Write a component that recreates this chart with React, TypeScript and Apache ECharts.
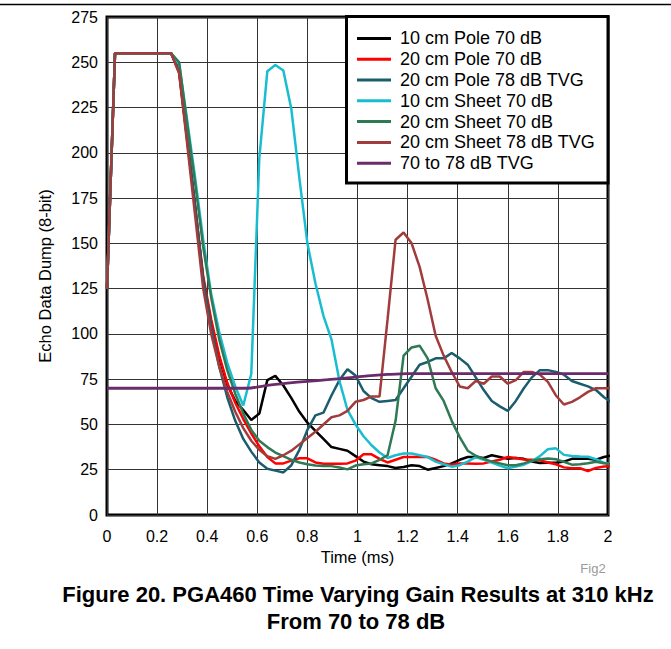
import React, { useEffect, useRef } from "react";
import * as echarts from "echarts";

const FONT = '"Liberation Sans", Arial, Helvetica, sans-serif';

const seriesNames = [
  "10 cm Pole 70 dB",
  "20 cm Pole 70 dB",
  "20 cm Pole 78 dB TVG",
  "10 cm Sheet 70 dB",
  "20 cm Sheet 70 dB",
  "20 cm Sheet 78 dB TVG",
  "70 to 78 dB TVG",
];
const seriesColors = ["#000000", "#ff0000", "#1b5d6e", "#19bdd0", "#2f7a54", "#a13c3c", "#6b2b6b"];

// sample times (ms)
const timesMs = [
  0, 0.032, 0.064, 0.096, 0.128, 0.16, 0.192, 0.224, 0.256, 0.288, 0.32, 0.352, 0.384, 0.416, 0.448, 0.48,
  0.512, 0.544, 0.576, 0.608, 0.64, 0.672, 0.704, 0.736, 0.768, 0.8, 0.832, 0.864, 0.896, 0.928, 0.96, 0.992,
  1.024, 1.056, 1.088, 1.12, 1.152, 1.184, 1.216, 1.248, 1.28, 1.312, 1.344, 1.376, 1.408, 1.44, 1.472, 1.504,
  1.536, 1.568, 1.6, 1.632, 1.664, 1.696, 1.728, 1.76, 1.792, 1.824, 1.856, 1.888, 1.92, 1.952, 1.984, 2.016,
];

const pole10cm70 = [
  125, 255, 255, 255, 255, 255, 255, 255, 255,
  245, 208, 170, 130, 106, 87, 72, 63, 58, 52.5, 56, 74.5,
  76.8, 71.5, 64.5, 57, 51, 46.5, 42, 37.5, 36.5, 35.5, 32.5, 29.5, 28, 27.5,
  27, 26, 26.5, 27.5, 27, 25, 26, 27, 28.5, 30.5, 32, 32, 31.5, 33, 32, 31,
  31.5, 31, 29.5, 28.7, 28.8, 28.8, 29.5, 31, 31, 31, 30.5, 32, 33,
];
const pole20cm70 = [
  125, 255, 255, 255, 255, 255, 255, 255, 255,
  244, 207, 170, 132, 108, 88, 73, 62, 53, 45, 38, 32,
  28.5, 28.5, 30, 31.3, 31.3, 29, 28.3, 28.3, 28.3, 28.5, 30, 33.5, 33.5, 31,
  29, 30.5, 32, 32, 32, 32, 30.5, 28.5, 27.8, 28.5, 28.5, 28.3, 28.5, 29.5, 30.5, 32,
  31.5, 30.7, 30.5, 30.2, 29, 28, 26.3, 25.8, 25.8, 24.3, 26, 26.8, 27,
];
const pole20cm78tvg = [
  125, 255, 255, 255, 255, 255, 255, 255, 255,
  246, 208, 170, 130, 104, 82, 65, 52, 42, 35, 29, 25.5,
  24.5, 23.5, 27.5, 36, 47, 55, 56.5, 66, 74.5, 80.5, 77, 68.5, 64.5, 62.5,
  63, 63.5, 70, 76.5, 83, 84.5, 86.5, 86.5, 89.5, 86.5, 83, 76, 69, 63, 60, 57.5,
  63, 70, 76, 80, 80, 79, 77.5, 74, 72.5, 71, 69, 65, 62,
];
const sheet10cm70 = [
  125, 255, 255, 255, 255, 255, 255, 255, 255,
  249, 218, 186, 152, 122, 101, 84, 71, 60.5, 78, 197, 245,
  248.5, 245.5, 224, 186, 150, 128, 110, 97, 74, 58, 50, 43.5, 38.5, 34.5,
  31.5, 33, 34, 34, 33, 32, 29.5, 28, 26.7, 27.5, 29.5, 32, 30.5, 29, 27.3, 25.8,
  26.8, 27.8, 29.7, 32.5, 36.3, 36.8, 33.2, 32.6, 32.3, 32.2, 30.8, 28.8, 28,
];
const sheet20cm70 = [
  125, 255, 255, 255, 255, 255, 255, 255, 255,
  250, 216, 183, 148, 120, 97, 80, 67, 56, 47, 41, 37.5,
  34.5, 32.5, 30.5, 29, 28, 27.3, 27, 27, 26.2, 25.2, 27.3, 28, 28.5, 30.5,
  33, 52, 88, 92.5, 93.5, 86.5, 70, 63, 52, 43, 35.5, 32.7, 31, 29.5, 28.5, 27.5,
  27.5, 28.5, 30, 30.8, 31.2, 30.8, 29.3, 27.8, 28, 28.6, 29.4, 28.6, 28,
];
const sheet20cm78tvg = [
  125, 255, 255, 255, 255, 255, 255, 255, 255,
  244, 205, 165, 125, 100, 82, 68, 57, 48, 41, 36, 32.5,
  31, 33, 35.5, 39, 42.5, 46, 50, 54, 55, 57.5, 62.5, 63.5, 65.5, 65.5,
  108, 152, 156, 150, 137, 119, 99, 88, 79, 71, 70, 74, 72.5, 76.5, 76.5, 72.5,
  74.5, 79, 79, 77.5, 73.5, 66, 61, 62.5, 65, 68, 70, 70, 70,
];

const tvgTimesMs = [0, 0.56, 0.64, 0.72, 0.8, 0.88, 0.96, 1.04, 1.12, 1.2, 2];
const tvgCurve = [70, 70, 71.6, 72.8, 73.8, 74.7, 75.7, 76.8, 77.6, 78.1, 78.1];

const sampled = [pole10cm70, pole20cm70, pole20cm78tvg, sheet10cm70, sheet20cm70, sheet20cm78tvg];

export default function App() {
  const ref = useRef<HTMLDivElement>(null);
  useEffect(() => {
    if (!ref.current) return;
    const chart = echarts.init(ref.current, undefined, { renderer: "svg" });
    const series: any[] = sampled.map((vals, k) => ({
      name: seriesNames[k],
      type: "line",
      data: vals.map((v, i) => [timesMs[i], v]),
      showSymbol: false,
      symbol: "none",
      color: seriesColors[k],
      lineStyle: { width: 2.5, color: seriesColors[k] },
      z: 3,
    }));
    series.push({
      name: seriesNames[6],
      type: "line",
      data: tvgCurve.map((v, i) => [tvgTimesMs[i], v]),
      showSymbol: false,
      symbol: "none",
      smooth: 0.3,
      color: seriesColors[6],
      lineStyle: { width: 2.8, color: seriesColors[6] },
      z: 3,
    });
    chart.setOption({
      animation: false,
      backgroundColor: "#ffffff",
      textStyle: { fontFamily: FONT },
      grid: {
        left: 107,
        right: 63,
        top: 17,
        bottom: 134,
        show: true,
        borderColor: "#000",
        borderWidth: 3,
        backgroundColor: "transparent",
      },
      xAxis: {
        type: "value",
        min: 0,
        max: 2,
        interval: 0.2,
        axisLine: { show: false },
        axisTick: { show: false },
        axisLabel: { fontSize: 16, color: "#000", margin: 13, fontFamily: FONT },
        splitLine: { show: true, lineStyle: { color: "#333", width: 1 } },
        name: "Time (ms)",
        nameLocation: "middle",
        nameGap: 32,
        nameTextStyle: { fontSize: 16.5, color: "#000", fontFamily: FONT },
      },
      yAxis: {
        type: "value",
        min: 0,
        max: 275,
        interval: 25,
        axisLine: { show: false },
        axisTick: { show: false },
        axisLabel: { fontSize: 16, color: "#000", margin: 9, fontFamily: FONT },
        splitLine: { show: true, lineStyle: { color: "#333", width: 1 } },
      },
      legend: {
        show: true,
        orient: "vertical",
        left: 357,
        top: 28,
        padding: 0,
        itemGap: 0,
        itemWidth: 34,
        itemHeight: 3,
        icon: "rect",
        z: 10,
        data: seriesNames,
        textStyle: {
          fontSize: 18,
          color: "#000",
          lineHeight: 20.8,
          fontFamily: FONT,
          padding: [0, 0, 0, 4],
        },
      },
      graphic: [
        {
          type: "line",
          z: 1,
          shape: { x1: 0, y1: 4.5, x2: 671, y2: 4.5 },
          style: { stroke: "#000", lineWidth: 1.5 },
        },
        {
          type: "rect",
          z: 8,
          shape: { x: 346.5, y: 16.5, width: 261.5, height: 166.5 },
          style: { fill: "#fff", stroke: "#000", lineWidth: 3 },
        },
        {
          type: "text",
          z: 8,
          x: 45,
          y: 276,
          rotation: Math.PI / 2,
          style: {
            text: "Echo Data Dump (8-bit)",
            fill: "#000",
            fontSize: 16.5,
            fontFamily: FONT,
            align: "center",
            verticalAlign: "middle",
          },
        },
        {
          type: "text",
          z: 8,
          x: 593,
          y: 568,
          style: { text: "Fig2", fill: "#9a9a9a", fontSize: 13, fontFamily: FONT, align: "center", verticalAlign: "middle" },
        },
        {
          type: "text",
          z: 8,
          x: 358,
          y: 594,
          style: {
            text: "Figure 20. PGA460 Time Varying Gain Results at 310 kHz",
            fill: "#000",
            fontSize: 22,
            fontWeight: "bold",
            fontFamily: FONT,
            align: "center",
            verticalAlign: "middle",
          },
        },
        {
          type: "text",
          z: 8,
          x: 356,
          y: 621,
          style: {
            text: "From 70 to 78 dB",
            fill: "#000",
            fontSize: 22,
            fontWeight: "bold",
            fontFamily: FONT,
            align: "center",
            verticalAlign: "middle",
          },
        },
      ],
      series,
    });
    return () => chart.dispose();
  }, []);
  return (
    <div
      ref={ref}
      style={{ position: "fixed", left: 0, top: 0, width: 671, height: 649, background: "#fff" }}
    />
  );
}
